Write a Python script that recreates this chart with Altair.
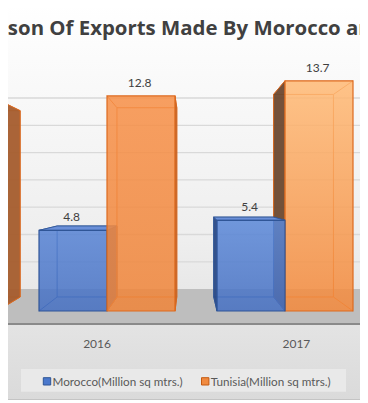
import altair as alt
import pandas as pd

# ---------------- data ----------------
years = ["2015", "2016", "2017"]
morocco = [None, 4.8, 5.4]
tunisia = [12.6, 12.8, 13.7]
series_names = ["Morocco(Million sq mtrs.)", "Tunisia(Million sq mtrs.)"]
title_text = "Comparison Of Exports Made By Morocco and Tunisia"
grid_values = [2, 4, 6, 8, 10, 12, 14]

# ---------------- layout / style ----------------
W, H = 352, 395
PX_PER_CAT, PX_PER_UNIT = 178.0, 16.8
X_DOM = [0.4438, 0.4438 + W / PX_PER_CAT]        # category-index units visible in the crop
Y_DOM = [18.036 - H / PX_PER_UNIT, 18.036]       # value units visible in the crop
BAR_W = 0.382
VP_U, VP_V = 1.466, 6.96     # perspective vanishing point (data units)
S_BACK, S_WALL, S_FLOOR, S_LABEL = 0.88, 0.8125, 1.103, 1.12
FONT = "Lato"
TITLE_FONT = "Open Sans"

SER_STYLE = [
    dict(edge="#2f5597", right="#3a5ea6", left="#2c4a86", top="#6a8fd8"),
    dict(edge="#dd6a1f", right="#a65d2e", left="#6d4930", top="#f8a060"),
]
FRONT_GRAD = {
    (0, "2016"): ("#5783d4", "#4670c2"),
    (0, "2017"): ("#5b88d8", "#4670c2"),
    (1, "2015"): ("#f79048", "#ef853a"),
    (1, "2016"): ("#f79048", "#ef853a"),
    (1, "2017"): ("#ffba76", "#f3893c"),
}


def ux(px):
    return X_DOM[0] + (px - 8) / PX_PER_CAT


def vy(py):
    return Y_DOM[1] - (py - 8) / PX_PER_UNIT


def pu(u, s):
    return VP_U + (u - VP_U) * s


def pv(v, s):
    return VP_V + (v - VP_V) * s


xs = alt.Scale(domain=X_DOM, nice=False, zero=False)
ys = alt.Scale(domain=Y_DOM, nice=False, zero=False)


def X(f="x"):
    return alt.X(f"{f}:Q", scale=xs, axis=None)


def Y(f="y"):
    return alt.Y(f"{f}:Q", scale=ys, axis=None)


def grad(stops):
    return alt.Gradient(gradient="linear", x1=0, y1=0, x2=0, y2=1,
                        stops=[alt.GradientStop(color=c, offset=o) for o, c in stops])


layers = []

# background
bg = pd.DataFrame({"x": [X_DOM[0]], "x2": [X_DOM[1]], "y": [vy(3)], "y2": [vy(399.5)]})
layers.append(alt.Chart(bg).mark_rect(
    fill=grad([(0, "#ffffff"), (0.6, "#eeeeee"), (1, "#dadada")]), clip=True
).encode(x=X("x"), x2="x2", y=Y("y"), y2="y2"))

# back-wall gridlines
gdf = pd.DataFrame({"x": X_DOM[0], "x2": X_DOM[1], "y": [pv(g, S_WALL) for g in grid_values]})
layers.append(alt.Chart(gdf).mark_rule(color="#d9d9d9", strokeWidth=1.3, clip=True)
              .encode(x=X("x"), x2="x2", y=Y("y")))

# floor
fdf = pd.DataFrame({"x": [X_DOM[0]], "x2": [X_DOM[1]], "y": [pv(0, S_WALL)], "y2": [pv(0, S_FLOOR)]})
layers.append(alt.Chart(fdf).mark_rect(fill="#bebebe", clip=True)
              .encode(x=X("x"), x2="x2", y=Y("y"), y2="y2"))
edf = pd.DataFrame({"x": [X_DOM[0]], "x2": [X_DOM[1]], "y": [pv(0, S_FLOOR)],
                    "y2": [pv(0, S_FLOOR) - 2 / PX_PER_UNIT]})
layers.append(alt.Chart(edf).mark_rect(fill="#8a8a8a", clip=True)
              .encode(x=X("x"), x2="x2", y=Y("y"), y2="y2"))

# bars (painter's order)
bars = []
for i, yr in enumerate(years):
    for k, vals in enumerate([morocco, tunisia]):
        v = vals[i]
        if v is None:
            continue
        x0 = i - BAR_W + k * BAR_W
        bars.append(dict(u=i, year=yr, k=k, v=v, x0=x0, x1=x0 + BAR_W))
left = sorted([b for b in bars if b["x1"] <= VP_U], key=lambda b: b["x0"])
right = sorted([b for b in bars if b["x1"] > VP_U], key=lambda b: -b["x0"])

label_rows = []
for b in left + right:
    st = SER_STYLE[b["k"]]
    x0, x1, v = b["x0"], b["x1"], b["v"]
    bx0, bx1 = pu(x0, S_BACK), pu(x1, S_BACK)
    by0, by1 = pv(0, S_BACK), pv(v, S_BACK)
    # back outline
    layers.append(alt.Chart(pd.DataFrame({"x": [bx0], "x2": [bx1], "y": [by0], "y2": [by1]}))
                  .mark_rect(fillOpacity=0, stroke=st["edge"], strokeWidth=1, clip=True)
                  .encode(x=X("x"), x2="x2", y=Y("y"), y2="y2"))
    # depth edges
    ddf = pd.DataFrame({"x": [x0, x1, x0, x1], "y": [0, 0, v, v],
                        "x2": [bx0, bx1, bx0, bx1], "y2": [by0, by0, by1, by1]})
    layers.append(alt.Chart(ddf).mark_rule(color=st["edge"], strokeWidth=1, clip=True)
                  .encode(x=X("x"), y=Y("y"), x2="x2", y2="y2"))
    # side face
    if x1 <= VP_U:
        sdf = pd.DataFrame({"x": [x1, bx1], "y": [0, by0], "y2": [v, by1]})
        scol = st["right"]
    else:
        sdf = pd.DataFrame({"x": [bx0, x0], "y": [by0, 0], "y2": [by1, v]})
        scol = st["left"]
    layers.append(alt.Chart(sdf).mark_area(orient="vertical", color=scol, stroke=st["edge"],
                                           strokeWidth=0.8, opacity=0.95, clip=True)
                  .encode(x=X("x"), y=Y("y"), y2="y2"))
    # top face
    if v < VP_V:
        tdf = pd.DataFrame({"y": [v, by1], "x": [x0, bx0], "x2": [x1, bx1]})
        layers.append(alt.Chart(tdf).mark_area(orient="horizontal", color=st["top"],
                                               stroke=st["edge"], strokeWidth=0.8, clip=True)
                      .encode(y=Y("y"), x=X("x"), x2="x2"))
    # front face
    top_c, bot_c = FRONT_GRAD[(b["k"], b["year"])]
    layers.append(alt.Chart(pd.DataFrame({"x": [x0], "x2": [x1], "y": [0], "y2": [v]}))
                  .mark_rect(fill=grad([(0, top_c), (1, bot_c)]), fillOpacity=0.86,
                             stroke=st["edge"], strokeWidth=1.2, clip=True)
                  .encode(x=X("x"), x2="x2", y=Y("y"), y2="y2"))
    label_rows.append({"x": (x0 + x1) / 2 - 0.008, "y": v, "t": f"{v}"})

# value labels
layers.append(alt.Chart(pd.DataFrame(label_rows)).mark_text(
    font=FONT, fontSize=12, color="#404040", baseline="alphabetic", align="center", dy=-9, clip=True
).encode(x=X("x"), y=Y("y"), text="t:N"))

# category labels
cdf = pd.DataFrame({"x": [pu(i, S_LABEL) for i in range(len(years))],
                    "y": pv(0, S_FLOOR), "t": years})
layers.append(alt.Chart(cdf).mark_text(
    font=FONT, fontSize=12, color="#595959", baseline="alphabetic", align="center", dy=24.7, clip=True
).encode(x=X("x"), y=Y("y"), text="t:N"))

# legend
lb = pd.DataFrame({"x": [ux(21)], "x2": [ux(346)], "y": [vy(369)], "y2": [vy(391.7)]})
layers.append(alt.Chart(lb).mark_rect(fill="#e9e9e9", clip=True)
              .encode(x=X("x"), x2="x2", y=Y("y"), y2="y2"))
sq = pd.DataFrame({"x": [ux(43.3), ux(201.5)], "x2": [ux(50.7), ux(208.9)],
                   "y": [vy(377.7)] * 2, "y2": [vy(385)] * 2, "s": series_names})
layers.append(alt.Chart(sq).mark_rect(strokeWidth=1, clip=True).encode(
    x=X("x"), x2="x2", y=Y("y"), y2="y2",
    fill=alt.Fill("s:N", scale=alt.Scale(domain=series_names, range=["#4a78cc", "#f08a40"]), legend=None),
    stroke=alt.Stroke("s:N", scale=alt.Scale(domain=series_names, range=["#2f5597", "#c55a11"]), legend=None)))
lt = pd.DataFrame({"x": [ux(52.5), ux(210.8)], "y": [vy(381.6)] * 2, "t": series_names})
layers.append(alt.Chart(lt).mark_text(
    font=FONT, fontSize=11.7, color="#595959", baseline="middle", align="left", clip=True
).encode(x=X("x"), y=Y("y"), text="t:N"))

# bottom border of the chart area
bb = pd.DataFrame({"x": [X_DOM[0]], "x2": [X_DOM[1]], "y": [vy(399.5)]})
layers.append(alt.Chart(bb).mark_rule(color="#c4c4c4", strokeWidth=1, clip=True)
              .encode(x=X("x"), x2="x2", y=Y("y")))

# title
tt = pd.DataFrame({"x": [ux(192.5)], "y": [vy(35)], "t": [title_text]})
layers.append(alt.Chart(tt).mark_text(
    font=TITLE_FONT, fontSize=20.4, fontWeight="bold", color="#404040", baseline="alphabetic",
    align="center", clip=True
).encode(x=X("x"), y=Y("y"), text="t:N"))

chart = alt.layer(*layers).properties(
    width=W, height=H, padding=0, autosize="none"
).configure_view(stroke=None)

chart.save("out.html", embed_options={"renderer": "svg", "actions": False})
